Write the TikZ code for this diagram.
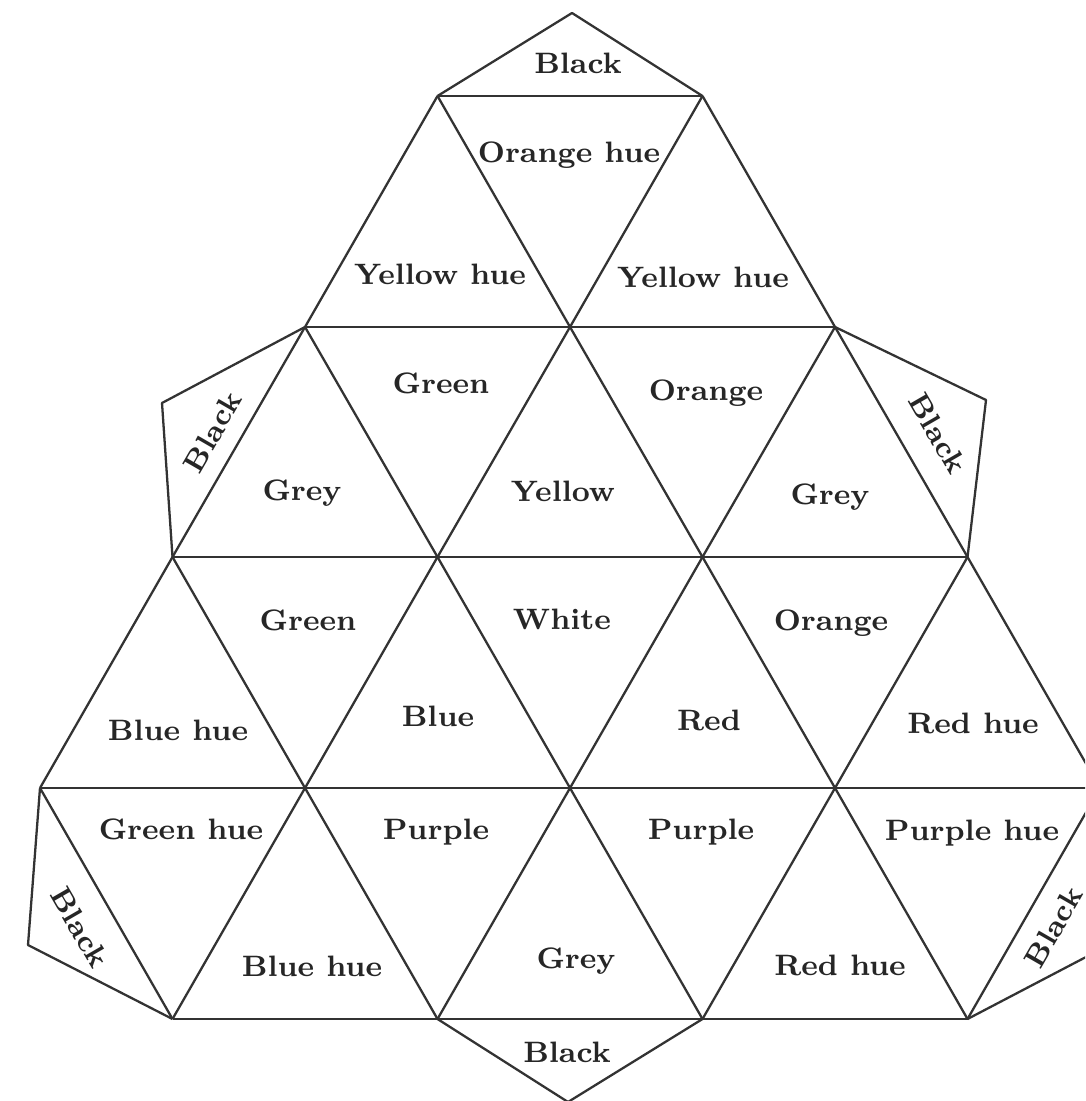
\documentclass[tikz,border=0pt]{standalone}
\usepackage{tikz}
\usetikzlibrary{calc}

\begin{document}
\begin{tikzpicture}[
    face/.style={draw=black!80, line width=0.65pt, line join=round},
    lbl/.style={font=\fontsize{8.4}{10}\selectfont\bfseries, text=black!85, inner sep=0pt, text height=6pt, text depth=0pt},
]
    \clip (0,0) rectangle (10.85,-11.01);

    % --- lattice corners, row by row ---
    \coordinate (a1) at (4.375,-0.96);
    \coordinate (a2) at (7.025,-0.96);
    \coordinate (b1) at (3.05,-3.27);
    \coordinate (b2) at (5.70,-3.27);
    \coordinate (b3) at (8.35,-3.27);
    \coordinate (c1) at (1.725,-5.57);
    \coordinate (c2) at (4.375,-5.57);
    \coordinate (c3) at (7.025,-5.57);
    \coordinate (c4) at (9.675,-5.57);
    \coordinate (d1) at (0.40,-7.88);
    \coordinate (d2) at (3.05,-7.88);
    \coordinate (d3) at (5.70,-7.88);
    \coordinate (d4) at (8.35,-7.88);
    \coordinate (d5) at (11.00,-7.88);
    \coordinate (e1) at (1.725,-10.19);
    \coordinate (e2) at (4.375,-10.19);
    \coordinate (e3) at (7.025,-10.19);
    \coordinate (e4) at (9.675,-10.19);
    % tab tips
    \coordinate (t0) at (5.72,-0.13);
    \coordinate (t1) at (1.62,-4.03);
    \coordinate (t2) at (9.86,-4.00);
    \coordinate (t3) at (0.28,-9.45);
    \coordinate (t4) at (11.07,-9.46);
    \coordinate (t5) at (5.68,-11.02);

    % --- horizontal rows ---
    \draw[face] (a1) -- (a2);
    \draw[face] (b1) -- (b3);
    \draw[face] (c1) -- (c4);
    \draw[face] (d1) -- (d5);
    \draw[face] (e1) -- (e4);

    % --- slants going down to the right ---
    \draw[face] (a1) -- (b2) -- (c3) -- (d4) -- (e4);
    \draw[face] (a2) -- (b3) -- (c4) -- (d5);
    \draw[face] (b1) -- (c2) -- (d3) -- (e3);
    \draw[face] (c1) -- (d2) -- (e2);
    \draw[face] (d1) -- (e1);

    % --- slants going down to the left ---
    \draw[face] (a1) -- (b1) -- (c1) -- (d1);
    \draw[face] (a2) -- (b2) -- (c2) -- (d2) -- (e1);
    \draw[face] (b3) -- (c3) -- (d3) -- (e2);
    \draw[face] (c4) -- (d4) -- (e3);
    \draw[face] (d5) -- (e4);

    % --- black tabs ---
    \draw[face] (a1) -- (t0) -- (a2);
    \draw[face] (b1) -- (t1) -- (c1);
    \draw[face] (b3) -- (t2) -- (c4);
    \draw[face] (d1) -- (t3) -- (e1);
    \draw[face] (d5) -- (t4) -- (e4);
    \draw[face] (e2) -- (t5) -- (e3);

    % --- labels, top band ---
    \node[lbl] (blacktop) at (5.78,-0.63) {Black};
    \node[lbl] (orangehue) at (5.69,-1.52) {Orange hue};
    \node[lbl] (yellowhueL) at (4.40,-2.74) {Yellow hue};
    \node[lbl] (yellowhueR) at (7.03,-2.77) {Yellow hue};

    % --- second band ---
    \node[lbl, rotate=60] (blackL) at (2.12,-4.32) {Black};
    \node[lbl] (greenA) at (4.41,-3.83) {Green};
    \node[lbl] (orangeA) at (7.06,-3.90) {Orange};
    \node[lbl, rotate=-60] (blackR) at (9.38,-4.33) {Black};
    \node[lbl] (greyL) at (3.02,-4.90) {Grey};
    \node[lbl] (yellow) at (5.63,-4.91) {Yellow};
    \node[lbl] (greyR) at (8.30,-4.94) {Grey};

    % --- third band ---
    \node[lbl] (greenB) at (3.08,-6.20) {Green};
    \node[lbl] (white) at (5.62,-6.19) {White};
    \node[lbl] (orangeB) at (8.31,-6.20) {Orange};
    \node[lbl] (bluehueA) at (1.78,-7.30) {Blue hue};
    \node[lbl] (blue) at (4.38,-7.16) {Blue};
    \node[lbl] (red) at (7.09,-7.20) {Red};
    \node[lbl] (redhueA) at (9.73,-7.23) {Red hue};

    % --- bottom band ---
    \node[lbl] (greenhue) at (1.81,-8.29) {Green hue};
    \node[lbl] (purpleA) at (4.36,-8.29) {Purple};
    \node[lbl] (purpleB) at (7.01,-8.29) {Purple};
    \node[lbl] (purplehue) at (9.72,-8.30) {Purple hue};
    \node[lbl, rotate=-60] (blackBL) at (0.80,-9.27) {Black};
    \node[lbl] (bluehueB) at (3.12,-9.66) {Blue hue};
    \node[lbl] (greyB) at (5.76,-9.58) {Grey};
    \node[lbl] (redhueB) at (8.40,-9.65) {Red hue};
    \node[lbl, rotate=60] (blackBR) at (10.53,-9.27) {Black};
    \node[lbl] (blackbot) at (5.67,-10.52) {Black};
\end{tikzpicture}
\end{document}
